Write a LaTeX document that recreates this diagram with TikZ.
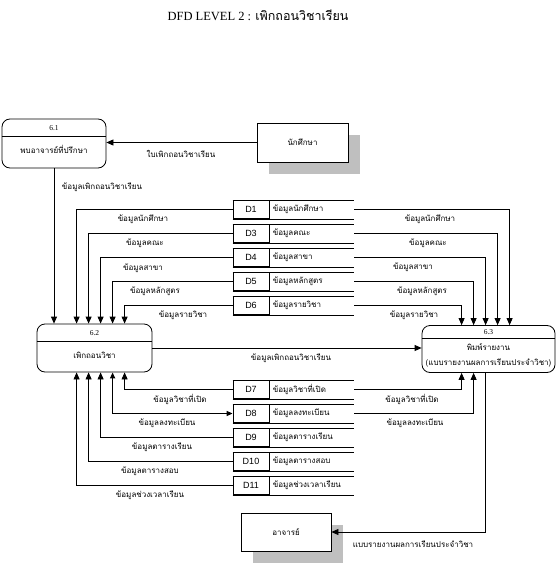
\documentclass[tikz,border=0pt]{standalone}
\usepackage{fontspec}
\setmainfont{Liberation Serif}
\newfontfamily\thaifont[Script=Thai]{Loma}
\newfontfamily\idfont{Liberation Sans}
\usetikzlibrary{arrows.meta,positioning,shadows}

\begin{document}
\begin{tikzpicture}[x=1pt,y=-1pt,line width=0.8pt,
    flow/.style={-{Triangle[length=7pt,width=6pt]}},
    txt/.style={font=\thaifont\fontsize{8}{9}\selectfont,inner sep=0pt},
    num/.style={font=\fontsize{7.5}{8}\selectfont,inner sep=0pt},
    proc/.style={draw,rounded corners=8pt,fill=white},
    ent/.style={draw,fill=white,minimum width=91pt,minimum height=39pt,txt,
      drop shadow={shadow xshift=12pt,shadow yshift=-12pt,opacity=1,fill=black!25}},
    dsid/.style={draw,minimum width=36pt,minimum height=18pt,inner sep=0pt,
      font=\idfont\fontsize{9}{10}\selectfont},
    dsname/.style={minimum height=18pt,text width=78pt,inner xsep=3pt,inner ysep=0pt,
      align=left,font=\thaifont\fontsize{8}{9}\selectfont}]
    \useasboundingbox (0,0) rectangle (557,564);

    \node[font=\fontsize{12.5}{14}\selectfont] (title) at (258,15)
      {DFD LEVEL 2 : {\thaifont เพิกถอนวิชาเรียน}};

    \node[proc,minimum width=104pt,minimum height=49pt] (p61) at (54,143.5) {};
    \draw ([yshift=-18pt]p61.north west) -- ([yshift=-18pt]p61.north east);
    \node[num] (p61n) at ([yshift=-9pt]p61.north) {6.1};
    \node[txt] (p61t) at ([yshift=-31pt]p61.north) {พบอาจารย์ที่ปรึกษา};

    \node[proc,minimum width=115pt,minimum height=48pt] (p62) at (94.5,348) {};
    \draw ([yshift=-18pt]p62.north west) -- ([yshift=-18pt]p62.north east);
    \node[num] (p62n) at ([yshift=-9pt]p62.north) {6.2};
    \node[txt] (p62t) at ([yshift=-32pt]p62.north) {เพิกถอนวิชา};

    \node[proc,minimum width=133pt,minimum height=47pt] (p63) at (488.5,349) {};
    \draw ([yshift=-13pt]p63.north west) -- ([yshift=-13pt]p63.north east);
    \node[num] (p63n) at ([yshift=-6.5pt]p63.north) {6.3};
    \node[txt] (p63t) at ([yshift=-21.5pt]p63.north) {พิมพ์รายงาน};
    \node[txt] (p63u) at ([yshift=-37.5pt]p63.north) {(แบบรายงานผลการเรียนประจำวิชา)};

    \node[ent] (student) at (302.5,142.5) {นักศึกษา};
    \node[ent,minimum width=90pt,minimum height=38pt] (teacher) at (286,532) {อาจารย์};

    \foreach \id/\y/\t in {D1/209.5/ข้อมูลนักศึกษา,D3/233.5/ข้อมูลคณะ,
        D4/257.5/ข้อมูลสาขา,D5/281.5/ข้อมูลหลักสูตร,D6/305.5/ข้อมูลรายวิชา,
        D7/389.5/ข้อมูลวิชาที่เปิด,D8/413.5/ข้อมูลลงทะเบียน,D9/437.5/ข้อมูลตารางเรียน,
        D10/461.5/ข้อมูลตารางสอบ,D11/485.5/ข้อมูลช่วงเวลาเรียน} {
      \node[dsid] (\id) at (251,\y) {\id};
      \node[dsname,right=0pt of \id] (\id-t) {\t};
      \draw (\id.north west) -- (\id-t.north east) (\id.south west) -- (\id-t.south east);
    }

    \draw[flow] (student.west) -- (student.west -| p61.east);
    \draw[flow] (p61.south) -- (p61.south |- p62.north);
    \draw[flow] (p62.east) -- (p62.east -| p63.west);
    \draw[flow] ([xshift=64pt]p63.south west) |- (teacher.east);

    \foreach \id/\dx in {D1/40,D3/52,D4/64,D5/76,D6/88}
      \draw[flow] (\id.west) -| ([xshift=\dx pt]p62.north west);
    \foreach \id/\dx in {D1/88,D3/76,D4/64,D5/52,D6/40}
      \draw[flow] (\id-t.east) -| ([xshift=\dx pt]p63.north west);
    \foreach \id/\dx in {D7/88,D9/64,D10/52,D11/40}
      \draw[flow] (\id.west) -| ([xshift=\dx pt]p62.south west);
    \draw[{Triangle[length=6pt,width=5pt]}-{Triangle[length=6pt,width=5pt]},line width=1.4pt]
      ([xshift=76pt]p62.south west) |- (D8.west);
    \foreach \id/\dx in {D7/40,D8/52}
      \draw[flow] (\id-t.east) -| ([xshift=\dx pt]p63.south west);

    \foreach \x/\y/\t [count=\i] in {181/154/ใบเพิกถอนวิชาเรียน,102/187/ข้อมูลเพิกถอนวิชาเรียน,
        143/219/ข้อมูลนักศึกษา,145/243/ข้อมูลคณะ,143/268/ข้อมูลสาขา,
        155/291/ข้อมูลหลักสูตร,183/315/ข้อมูลรายวิชา,
        430/219/ข้อมูลนักศึกษา,428/243/ข้อมูลคณะ,413/267/ข้อมูลสาขา,
        422/291/ข้อมูลหลักสูตร,414/315/ข้อมูลรายวิชา,
        291/358/ข้อมูลเพิกถอนวิชาเรียน,
        180/399/ข้อมูลวิชาที่เปิด,167/423/ข้อมูลลงทะเบียน,162/447/ข้อมูลตารางเรียน,
        150/471/ข้อมูลตารางสอบ,150/495/ข้อมูลช่วงเวลาเรียน,
        412/399/ข้อมูลวิชาที่เปิด,415/423/ข้อมูลลงทะเบียน,
        413/544/แบบรายงานผลการเรียนประจำวิชา}
      \node[txt] (lbl\i) at (\x,\y) {\t};
\end{tikzpicture}
\end{document}
